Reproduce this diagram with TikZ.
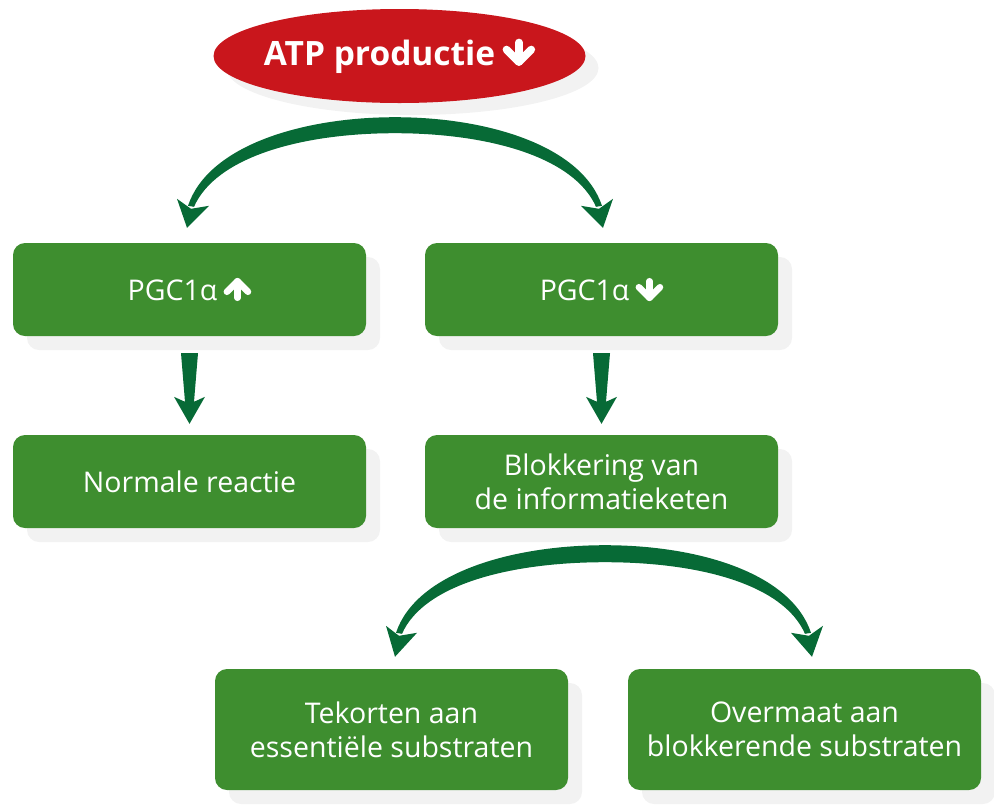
\documentclass[tikz,border=0pt]{standalone}
\usepackage{fontspec}
\setmainfont{Open Sans}
\usepackage{xcolor}
\usetikzlibrary{calc,shapes.geometric,shadows}

\definecolor{boxgroen}{HTML}{3E8E2F}
\definecolor{pijlgroen}{HTML}{076A36}
\definecolor{atprood}{HTML}{C9161C}
\definecolor{schaduw}{HTML}{F2F2F2}

\newcommand{\pijlneer}{\hspace{0.22em}\tikz[baseline=0pt, sharp corners, line width=0.23em, line cap=round, line join=round]{
    \draw[white] (0,0.68em) -- (0,0.1em);
    \draw[white] (-0.37em,0.47em) -- (0,0.1em) -- (0.37em,0.47em);}}
\newcommand{\pijlop}{\hspace{0.22em}\tikz[baseline=0pt, sharp corners, line width=0.23em, line cap=round, line join=round]{
    \draw[white] (0,0.1em) -- (0,0.68em);
    \draw[white] (-0.37em,0.31em) -- (0,0.68em) -- (0.37em,0.31em);}}

\begin{document}
\begin{tikzpicture}[
    x=1pt, y=-1pt,
    font=\fontsize{28.5}{34}\selectfont,
    bron/.style={ellipse, fill=atprood, text=white, inner xsep=-30pt, inner ysep=0pt,
        minimum width=372pt, minimum height=94pt,
        font=\bfseries\fontsize{33.5}{40}\selectfont,
        drop shadow={shadow xshift=13pt, shadow yshift=-12pt, fill=schaduw, opacity=1}},
    stap/.style={fill=boxgroen, text=white, rounded corners=12pt, align=center,
        inner sep=0pt, minimum width=353pt, minimum height=93pt,
        drop shadow={shadow xshift=14pt, shadow yshift=-14pt, fill=schaduw, opacity=1}},
    hoog/.style={minimum height=121pt},
    pijl/.style={fill=pijlgroen},
]
    \useasboundingbox (0,0) rectangle (994,807);

    \node[bron] (atp) at (399.5,56) {ATP productie\pijlneer};
    \node[stap] (pgcop) at (189.5,289.5) {PGC1α\pijlop};
    \node[stap] (pgcneer) at (601.5,289.5) {PGC1α\pijlneer};
    \node[stap] (normaal) at (189.5,481.5) {Normale reactie};
    \node[stap] (blok) at (601.5,481.5) {Blokkering van\\de informatieketen};
    \node[stap, hoog] (tekort) at (391.5,729.5) {Tekorten aan\\essentiële substraten};
    \node[stap, hoog] (overmaat) at (804.5,729.5) {Overmaat aan\\blokkerende substraten};

    % boog onder ATP productie
    \coordinate (a1) at ($(atp.south)+(-4.5,14)$);
    \coordinate (a2) at ($(atp.south)+(-4.5,30)$);
    \coordinate (al) at ($(pgcop.north)+(-2.5,-15)$);
    \coordinate (ar) at ($(pgcneer.north)+(1.5,-15)$);
    \fill[pijl] ($(al)+(1,-22)$) .. controls +(20,-60) and +(-93,0) .. (a1)
        .. controls +(93,0) and +(-20,-60) .. ($(ar)+(-1,-22)$)
        -- ($(ar)+(-7,-21)$) .. controls +(-22,-50) and +(93,0) .. (a2)
        .. controls +(-93,0) and +(22,-50) .. ($(al)+(7,-21)$) -- cycle;
    \fill[pijl] (al) -- +(-10,-29) -- +(4,-19) -- +(22,-22) -- cycle;
    \fill[pijl] (ar) -- +(10,-29) -- +(-4,-19) -- +(-22,-22) -- cycle;

    % rechte pijlen
    \fill[pijl] ($(pgcop.south)+(-8.5,17)$) -- ($(pgcop.south)+(8.5,17)$)
        -- ($(normaal.north)+(4.5,-33)$) -- ($(normaal.north)+(15.5,-38)$)
        -- ($(normaal.north)+(0,-11)$) -- ($(normaal.north)+(-15.5,-38)$)
        -- ($(normaal.north)+(-4.5,-33)$) -- cycle;
    \fill[pijl] ($(pgcneer.south)+(-8.5,17)$) -- ($(pgcneer.south)+(8.5,17)$)
        -- ($(blok.north)+(4.5,-33)$) -- ($(blok.north)+(15.5,-38)$)
        -- ($(blok.north)+(0,-11)$) -- ($(blok.north)+(-15.5,-38)$)
        -- ($(blok.north)+(-4.5,-33)$) -- cycle;

    % boog onder blokkering
    \coordinate (b1) at ($(blok.south)+(3.5,17)$);
    \coordinate (b2) at ($(blok.south)+(3.5,34)$);
    \coordinate (bl) at ($(tekort.north)+(3.5,-12)$);
    \coordinate (br) at ($(overmaat.north)+(7.5,-12)$);
    \fill[pijl] ($(bl)+(1,-24)$) .. controls +(20,-60) and +(-93,0) .. (b1)
        .. controls +(93,0) and +(-20,-60) .. ($(br)+(-1,-24)$)
        -- ($(br)+(-7,-23)$) .. controls +(-22,-50) and +(93,0) .. (b2)
        .. controls +(-93,0) and +(22,-50) .. ($(bl)+(7,-23)$) -- cycle;
    \fill[pijl] (bl) -- +(-9,-31) -- +(4,-21) -- +(22,-24) -- cycle;
    \fill[pijl] (br) -- +(11,-31) -- +(-3,-21) -- +(-21,-24) -- cycle;
\end{tikzpicture}
\end{document}
